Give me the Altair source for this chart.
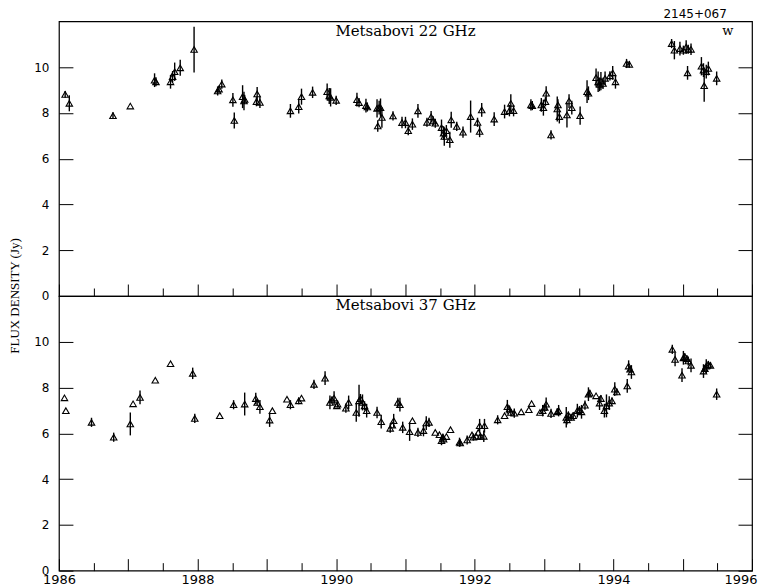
import altair as alt
import pandas as pd

# ---------------- data ----------------
yr22 = [1986.09, 1986.15, 1986.78, 1987.03, 1987.38, 1987.40, 1987.61, 1987.64, 1987.67, 1987.75,
        1987.95, 1988.29, 1988.31, 1988.35, 1988.51, 1988.53, 1988.65, 1988.67, 1988.68, 1988.85,
        1988.86, 1988.90, 1989.34, 1989.46, 1989.50, 1989.66, 1989.87, 1989.90, 1989.92, 1990.00,
        1990.30, 1990.33, 1990.43, 1990.45, 1990.59, 1990.62, 1990.64, 1990.60, 1990.66, 1990.82,
        1990.95, 1991.00, 1991.04, 1991.10, 1991.18, 1991.31, 1991.37, 1991.40, 1991.43, 1991.52,
        1991.55, 1991.56, 1991.59, 1991.64, 1991.66, 1991.74, 1991.83, 1991.94, 1992.04, 1992.07,
        1992.10, 1992.28, 1992.43, 1992.50, 1992.52, 1992.56, 1992.81, 1992.83, 1992.96, 1992.99,
        1993.02, 1993.03, 1993.10, 1993.19, 1993.20, 1993.22, 1993.33, 1993.36, 1993.40, 1993.52,
        1993.62, 1993.64, 1993.75, 1993.78, 1993.80, 1993.82, 1993.85, 1993.88, 1993.95, 1993.99,
        1994.03, 1994.19, 1994.23, 1994.84, 1994.88, 1994.96, 1995.01, 1995.05, 1995.08, 1995.12,
        1995.07, 1995.27, 1995.30, 1995.31, 1995.34, 1995.37, 1995.49]
flux22 = [8.81, 8.42, 7.88, 8.30, 9.43, 9.36, 9.36, 9.58, 9.80, 9.97,
          10.77, 8.96, 9.04, 9.26, 8.57, 7.67, 8.71, 8.52, 8.59, 8.49,
          8.83, 8.46, 8.09, 8.27, 8.71, 8.90, 8.93, 8.74, 8.68, 8.55,
          8.58, 8.45, 8.32, 8.26, 8.20, 8.23, 8.23, 7.43, 7.80, 7.87,
          7.58, 7.58, 7.22, 7.51, 8.09, 7.59, 7.83, 7.65, 7.55, 7.36,
          7.12, 6.97, 7.22, 6.83, 7.70, 7.41, 7.16, 7.84, 7.59, 7.19,
          8.13, 7.73, 8.06, 8.10, 8.42, 8.10, 8.35, 8.32, 8.35, 8.23,
          8.49, 8.86, 7.04, 8.17, 8.35, 7.84, 7.91, 8.52, 8.23, 7.88,
          8.93, 8.86, 9.54, 9.36, 9.25, 9.39, 9.29, 9.51, 9.62, 9.75,
          9.36, 10.16, 10.12, 11.03, 10.74, 10.81, 10.74, 10.88, 10.78, 10.78,
          9.75, 10.04, 9.87, 9.19, 9.80, 9.94, 9.51]
err22 = [0.15, 0.35, 0.15, 0.0, 0.30, 0.20, 0.30, 0.25, 0.40, 0.35,
         1.00, 0.20, 0.15, 0.20, 0.30, 0.35, 0.50, 0.40, 0.20, 0.20,
         0.30, 0.25, 0.30, 0.30, 0.35, 0.25, 0.35, 0.35, 0.40, 0.20,
         0.30, 0.20, 0.30, 0.20, 0.40, 0.30, 0.40, 0.25, 0.45, 0.20,
         0.25, 0.25, 0.20, 0.25, 0.30, 0.20, 0.25, 0.20, 0.20, 0.35,
         0.30, 0.40, 0.25, 0.35, 0.35, 0.20, 0.25, 0.70, 0.20, 0.25,
         0.30, 0.30, 0.30, 0.25, 0.40, 0.25, 0.25, 0.20, 0.30, 0.35,
         0.20, 0.30, 0.20, 0.55, 0.25, 0.30, 0.55, 0.30, 0.30, 0.40,
         0.50, 0.30, 0.40, 0.45, 0.30, 0.40, 0.25, 0.30, 0.20, 0.30,
         0.30, 0.20, 0.15, 0.20, 0.40, 0.30, 0.20, 0.30, 0.20, 0.25,
         0.30, 0.40, 0.30, 0.70, 0.30, 0.30, 0.30]

yr37 = [1986.08, 1986.10, 1986.47, 1986.79, 1987.03, 1987.07, 1987.17, 1987.39, 1987.61, 1987.93,
        1987.96, 1988.32, 1988.52, 1988.68, 1988.84, 1988.86, 1988.90, 1989.04, 1989.08, 1989.29,
        1989.34, 1989.46, 1989.50, 1989.68, 1989.84, 1989.91, 1989.94, 1989.97, 1990.01, 1990.02,
        1990.14, 1990.18, 1990.29, 1990.33, 1990.35, 1990.38, 1990.41, 1990.44, 1990.59, 1990.65,
        1990.78, 1990.81, 1990.83, 1990.89, 1990.92, 1990.96, 1991.06, 1991.10, 1991.18, 1991.26,
        1991.30, 1991.34, 1991.43, 1991.49, 1991.52, 1991.54, 1991.55, 1991.59, 1991.65, 1991.78,
        1991.79, 1991.89, 1991.96, 1991.98, 1992.02, 1992.05, 1992.07, 1992.08, 1992.13, 1992.14,
        1992.33, 1992.43, 1992.47, 1992.50, 1992.52, 1992.57, 1992.67, 1992.78, 1992.82, 1992.94,
        1992.98, 1993.01, 1993.03, 1993.10, 1993.19, 1993.21, 1993.32, 1993.33, 1993.35, 1993.39,
        1993.42, 1993.48, 1993.51, 1993.54, 1993.59, 1993.64, 1993.66, 1993.75, 1993.80, 1993.82,
        1993.87, 1993.90, 1993.94, 1993.98, 1994.02, 1994.05, 1994.20, 1994.22, 1994.24, 1994.26,
        1994.85, 1994.89, 1994.99, 1995.01, 1995.03, 1995.06, 1995.08, 1995.12, 1995.30, 1995.32,
        1995.34, 1995.37, 1995.40, 1995.49]
flux37 = [7.55, 6.99, 6.48, 5.83, 6.41, 7.29, 7.57, 8.32, 9.04, 8.62,
          6.65, 6.77, 7.25, 7.28, 7.52, 7.35, 7.16, 6.58, 6.99, 7.49,
          7.25, 7.42, 7.54, 8.14, 8.41, 7.35, 7.46, 7.54, 7.20, 7.28,
          7.10, 7.35, 6.91, 7.42, 7.52, 7.35, 7.20, 6.99, 6.91, 6.51,
          6.22, 6.36, 6.55, 7.35, 7.25, 6.26, 6.07, 6.55, 6.04, 6.12,
          6.45, 6.48, 6.04, 5.94, 5.68, 5.83, 5.75, 5.86, 6.16, 5.61,
          5.58, 5.71, 5.93, 5.83, 5.87, 6.04, 6.33, 5.87, 5.87, 6.33,
          6.59, 6.77, 7.16, 7.06, 6.91, 6.88, 6.94, 7.03, 7.30, 6.91,
          6.99, 7.13, 7.27, 6.87, 6.94, 6.99, 6.70, 6.59, 6.80, 6.70,
          6.77, 6.99, 7.03, 6.94, 7.23, 7.71, 7.75, 7.64, 7.32, 7.52,
          6.99, 7.20, 7.32, 7.42, 7.93, 7.81, 8.07, 8.94, 8.80, 8.68,
          9.67, 9.23, 8.54, 9.30, 9.35, 9.26, 9.16, 8.97, 8.72, 8.83,
          8.94, 9.01, 8.97, 7.71]
err37 = [0.0, 0.0, 0.20, 0.20, 0.50, 0.0, 0.30, 0.0, 0.0, 0.25,
         0.20, 0.0, 0.20, 0.50, 0.25, 0.15, 0.30, 0.30, 0.0, 0.0,
         0.20, 0.15, 0.0, 0.20, 0.30, 0.30, 0.15, 0.30, 0.0, 0.15,
         0.20, 0.30, 0.40, 0.70, 0.20, 0.35, 0.20, 0.30, 0.25, 0.30,
         0.20, 0.0, 0.30, 0.20, 0.30, 0.25, 0.40, 0.0, 0.20, 0.25,
         0.30, 0.20, 0.0, 0.0, 0.20, 0.15, 0.15, 0.0, 0.0, 0.20,
         0.15, 0.20, 0.0, 0.15, 0.0, 0.0, 0.30, 0.15, 0.25, 0.30,
         0.20, 0.0, 0.30, 0.15, 0.15, 0.20, 0.0, 0.0, 0.0, 0.0,
         0.25, 0.15, 0.30, 0.20, 0.15, 0.25, 0.45, 0.20, 0.15, 0.15,
         0.15, 0.30, 0.15, 0.30, 0.20, 0.30, 0.15, 0.0, 0.30, 0.15,
         0.30, 0.50, 0.30, 0.15, 0.30, 0.15, 0.30, 0.25, 0.15, 0.30,
         0.20, 0.30, 0.30, 0.30, 0.15, 0.15, 0.20, 0.30, 0.30, 0.15,
         0.30, 0.15, 0.15, 0.25]

major_years = [1986, 1987, 1988, 1989, 1990, 1991, 1992, 1993, 1994, 1995, 1996]
minor_years = [1986.5, 1987.5, 1988.5, 1989.5, 1990.5, 1991.5, 1992.5, 1993.5, 1994.5, 1995.5]
y_ticks = [0, 2, 4, 6, 8, 10]

panel_labels = ["Metsabovi 22 GHz", "Metsabovi 37 GHz"]
label_pos = [1991.0, 11.6]
source_name = "2145+067"
source_pos = 1995.18
corner_mark = "w"
corner_pos = [1995.65, 11.6]
y_title = "FLUX DENSITY (Jy)"

W, H = 694, 275
TICK_FONT = "DejaVu Sans"
SERIF = "DejaVu Serif"


def panel(years, flux, err, label, bottom, extra=None):
    df = pd.DataFrame({"year": years, "flux": flux, "err": err})
    xs = alt.Scale(domain=[1986, 1996], nice=False, zero=False)
    ys = alt.Scale(domain=[0, 12], nice=False, zero=False)
    major_axis = alt.Axis(values=major_years, orient="bottom", offset=-12, tickSize=12,
                          domain=False, grid=False, labels=bottom, format="d",
                          labelExpr="datum.value % 2 == 0 ? datum.label : ''",
                          labelFlush=False, labelOverlap=False, labelPadding=3,
                          labelAlign={"condition": {"test": "datum.value == 1996", "value": "right"},
                                      "value": "center"},
                          labelOffset={"condition": {"test": "datum.value == 1996", "value": 5},
                                       "value": 0},
                          labelFont=TICK_FONT, labelFontSize=13, labelColor="black",
                          tickColor="black", tickWidth=1, title=None)
    minor_axis = alt.Axis(values=minor_years, orient="bottom", offset=-8, tickSize=8,
                          domain=False, grid=False, labels=False,
                          tickColor="black", tickWidth=1, title=None)
    left_axis = alt.Axis(values=y_ticks, orient="left", offset=-14, tickSize=14,
                         domain=False, grid=False, labelPadding=10, format="d",
                         labelFont=TICK_FONT, labelFontSize=12, labelColor="black",
                         tickColor="black", tickWidth=1, title=None)
    right_axis = alt.Axis(values=y_ticks, orient="right", offset=-14, tickSize=14,
                          domain=False, grid=False, labels=False,
                          tickColor="black", tickWidth=1, title=None)

    base = alt.Chart(df)
    pts = base.mark_point(shape="triangle-up", filled=False, size=42, color="black",
                          strokeWidth=1.1, opacity=1).encode(
        x=alt.X("year:Q", scale=xs, axis=major_axis),
        y=alt.Y("flux:Q", scale=ys, axis=left_axis),
    )
    bars = base.transform_calculate(
        lo="datum.flux - datum.err", hi="datum.flux + datum.err"
    ).mark_rule(color="black", strokeWidth=1.4).encode(
        x=alt.X("year:Q", scale=xs, axis=minor_axis),
        y=alt.Y("lo:Q", scale=ys, axis=right_axis),
        y2="hi:Q",
    )
    lab_df = pd.DataFrame({"t": [label], "year": [label_pos[0]], "flux": [label_pos[1]]})
    lab = alt.Chart(lab_df).mark_text(font=SERIF, fontSize=15, color="black",
                                      baseline="middle", align="center").encode(
        x=alt.X("year:Q", scale=xs, axis=None),
        y=alt.Y("flux:Q", scale=ys, axis=None),
        text="t:N",
    )
    layers = [bars, pts, lab]
    if extra is not None:
        layers += extra(xs, ys)
    return alt.layer(*layers).resolve_axis(x="independent", y="independent").properties(
        width=W, height=H)


def top_extras(xs, ys):
    w_df = pd.DataFrame({"t": [corner_mark], "year": [corner_pos[0]], "flux": [corner_pos[1]]})
    w = alt.Chart(w_df).mark_text(font=SERIF, fontSize=13, color="black",
                                  baseline="middle").encode(
        x=alt.X("year:Q", scale=xs, axis=None),
        y=alt.Y("flux:Q", scale=ys, axis=None),
        text="t:N",
    )
    s_df = pd.DataFrame({"t": [source_name], "year": [source_pos]})
    s = alt.Chart(s_df).mark_text(font=TICK_FONT, fontSize=12, color="black",
                                  baseline="bottom").encode(
        x=alt.X("year:Q", scale=xs, axis=None),
        y=alt.value(0),
        text="t:N",
    )
    t_df = pd.DataFrame({"t": [y_title]})
    t = alt.Chart(t_df).mark_text(font="Liberation Serif", fontSize=13, color="black",
                                  angle=270, align="center", baseline="top").encode(
        x=alt.value(-50),
        y=alt.value(H),
        text="t:N",
    )
    return [w, s, t]


top = panel(yr22, flux22, err22, panel_labels[0], False, top_extras)
bottom = panel(yr37, flux37, err37, panel_labels[1], True)

chart = alt.vconcat(top, bottom, spacing=0, bounds="flush").properties(
    padding={"left": 0, "top": -1, "right": 0, "bottom": 0}
).configure(background="white").configure_view(stroke="black", strokeWidth=1.2)

chart.save("out.html", embed_options={"renderer": "svg", "actions": False})
